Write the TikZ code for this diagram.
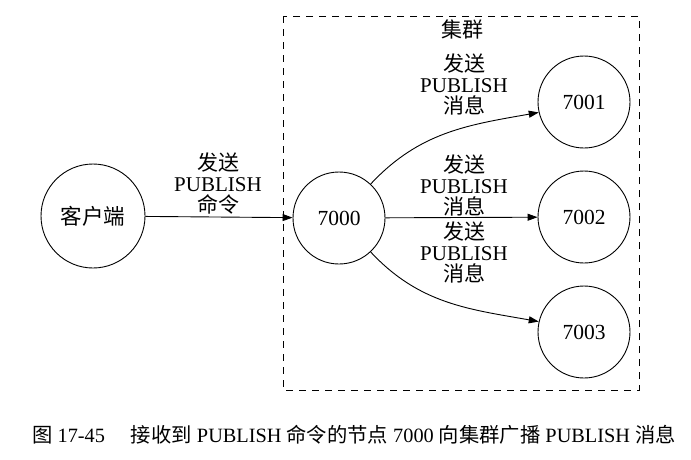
\documentclass[tikz,border=0pt]{standalone}
\usepackage{fontspec}
\setmainfont{Liberation Serif}
\newfontfamily\cjk{Noto Sans CJK SC}
\usetikzlibrary{arrows.meta}
\begin{document}
\begin{tikzpicture}[x=1pt,y=-1pt,
  nd/.style={draw,circle,line width=0.9pt,minimum size=92pt,inner sep=0pt,font=\fontsize{21.5}{21.5}\selectfont},
  lbl/.style={align=center,inner sep=0pt,font=\fontsize{21}{21}\selectfont},
  arr/.style={line width=0.9pt,-{Triangle[length=10pt,width=7pt]}}]
\useasboundingbox (0,0) rectangle (691,459);
\draw[dashed,line width=0.9pt,dash pattern=on 7pt off 6pt] (283,16) rectangle (639,390);
\node[lbl] (cl) at (462,29) {\cjk 集群};
\node[nd,minimum size=104pt] (client) at (93,216) {\cjk 客户端};
\node[nd] (n7000) at (339,218) {7000};
\node[nd] (n7001) at (584,102) {7001};
\node[nd] (n7002) at (584,217) {7002};
\node[nd] (n7003) at (584,332) {7003};
\draw[arr] (client) -- (n7000);
\draw[arr] (n7000) -- (n7002);
\draw[arr] (n7000.47) to[out=47,in=190] (n7001.193);
\draw[arr] (n7000.-47) to[out=-47,in=170] (n7003.167);
\node[lbl] (l1) at (218,184) {{\cjk 发送}\\PUBLISH\\{\cjk 命令}};
\node[lbl] (l2) at (464,84) {{\cjk 发送}\\PUBLISH\\{\cjk 消息}};
\node[lbl] (l3) at (464,185) {{\cjk 发送}\\PUBLISH\\{\cjk 消息}};
\node[lbl] (l4) at (464,252) {{\cjk 发送}\\PUBLISH\\{\cjk 消息}};
\node[lbl,font=\fontsize{20.3}{20.3}\selectfont] (cap) at (354,435) {{\cjk 图} 17-45\hspace{26pt}{\cjk 接收到} PUBLISH {\cjk 命令的节点} 7000 {\cjk 向集群广播} PUBLISH {\cjk 消息}};
\end{tikzpicture}
\end{document}
